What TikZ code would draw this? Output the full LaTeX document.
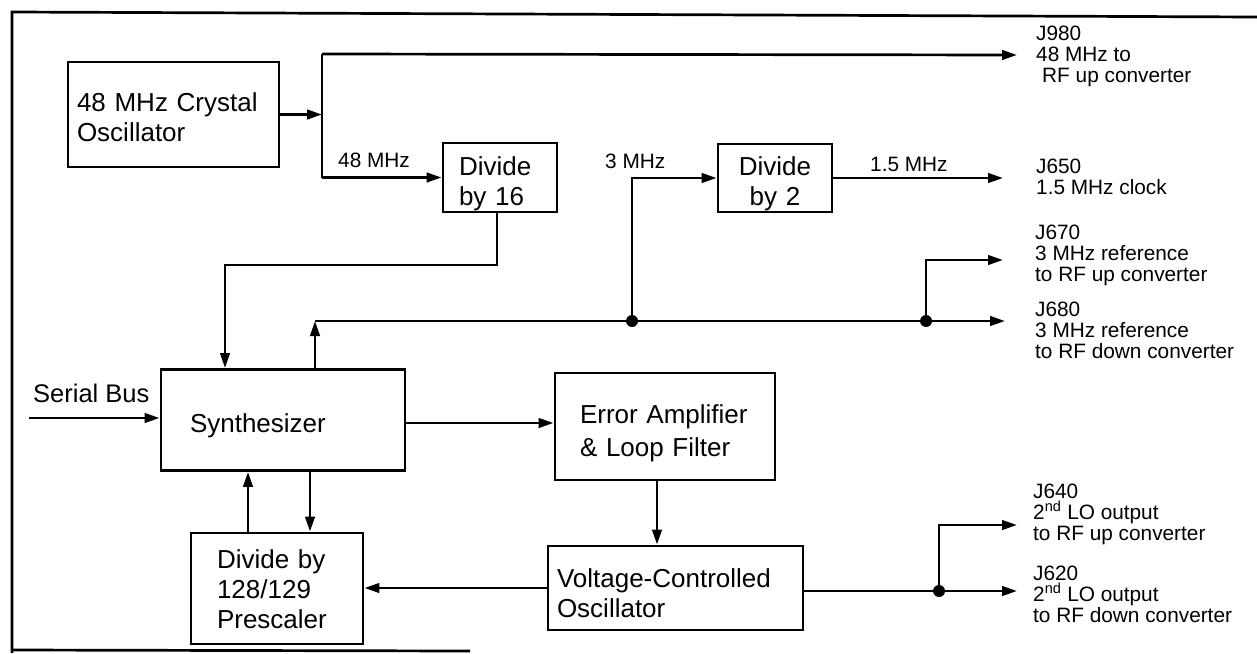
\documentclass[tikz,border=0pt]{standalone}
\usepackage{fontspec}
\setmainfont{Liberation Sans}
\usetikzlibrary{arrows.meta}
\newcommand{\firstline}[1]{\rule{0pt}{#1pt}}
\begin{document}
\begin{tikzpicture}[x=1pt,y=-1pt,
  box/.style={draw, line width=2.9pt, inner ysep=0pt, align=left, font=\fontsize{26}{30}\selectfont},
  wire/.style={line width=2.7pt},
  arr/.style={line width=2.7pt, -{Triangle[length=15pt,width=9.5pt]}},
  lbl/.style={font=\fontsize{20.8}{21}\selectfont, inner sep=0pt, align=left},
  biglbl/.style={font=\fontsize{25.5}{30}\selectfont, inner sep=0pt},
  dot/.style={circle, fill, inner sep=0pt, minimum size=12pt},
  frame/.style={line width=2.7pt}]
\useasboundingbox (0,0) rectangle (1257,653);
% frame
\draw[frame] (1257,17) -- (12,12) -- (12,653);
\draw[frame] (12,650) -- (470,651);

% boxes
\node[box, minimum width=211pt, minimum height=105pt, text width=193pt, inner xsep=9pt] (xtal) at (173.5,114.5) {\firstline{25}48 MHz Crystal\\Oscillator};
\node[box, minimum width=114pt, minimum height=69pt, text width=82pt, inner xsep=16pt] (div16) at (500,177.5) {\firstline{31}Divide\\by 16};
\node[box, minimum width=114pt, minimum height=68pt, text width=94pt, inner xsep=10pt, align=center] (div2) at (775,178) {\firstline{31}Divide\\by 2};
\node[box, minimum width=244pt, minimum height=101pt, text width=186pt, inner xsep=29pt] (synth) at (283,420) {\firstline{31}Synthesizer};
\node[box, minimum width=220pt, minimum height=107pt, text width=170pt, inner xsep=25pt, font=\fontsize{26}{33}\selectfont] (err) at (665,426.5) {\firstline{33}Error Amplifier\\\& Loop Filter};
\node[box, minimum width=255pt, minimum height=84pt, text width=237pt, inner xsep=9pt] (vco) at (675.5,588) {\firstline{29}Voltage-Controlled\\Oscillator};
\node[box, minimum width=172pt, minimum height=111pt, text width=120pt, inner xsep=26pt] (pre) at (277,588.5) {\firstline{21}Divide by\\128/129\\Prescaler};

% junction dots
\node[dot] (j1) at (632,321) {};
\node[dot] (j2) at (926,321) {};
\node[dot] (j3) at (939,591) {};

% crystal outputs
\coordinate (t1) at (322,54);
\coordinate (t2) at (322,177.5);
\coordinate (o980) at (1017,55);
\draw[arr] (xtal.east) -- (xtal.east -| t1);
\draw[wire] (t1) -- (t2);
\draw[arr] (t1) -- (o980);
\draw[arr] (t2) -- (div16.west);
\node[lbl, anchor=base west] (l48) at (338,167) {48 MHz};

% divide by 16 to synthesizer
\coordinate (c2) at (225,265);
\draw[arr] ([xshift=-3pt]div16.south) |- (c2) -- (c2 |- synth.north);

% 3 MHz reference bus
\coordinate (c1) at (315,321);
\coordinate (o680) at (1005,321);
\coordinate (o670) at (1003,260);
\coordinate (o650) at (1003,178);
\draw[arr] (c1 |- synth.north) -- (c1);
\draw[wire] (c1) -- (j1.center) -- (j2.center);
\draw[arr] (j2.center) -- (o680);
\draw[arr] (j2.center) |- (o670);
\draw[arr] (j1.center) |- (div2.west);
\draw[arr] (div2.east) -- (o650);
\node[lbl, anchor=base west] (l3) at (605,168) {3 MHz};
\node[lbl, anchor=base west] (l15) at (870,171) {1.5 MHz};

% serial bus
\coordinate (sb) at (29,418);
\draw[arr] (sb) -- (sb -| synth.west);
\node[biglbl, anchor=base west] (sbl) at (33,402) {Serial Bus};

% synthesizer loop
\coordinate (ey) at (0,423);
\draw[arr] (synth.east |- ey) -- (err.west |- ey);
\coordinate (ev) at (657,0);
\draw[arr] (ev |- err.south) -- (ev |- vco.north);
\draw[arr] (vco.west) -- (vco.west -| pre.east);
\coordinate (ps) at (248,0);
\draw[arr] (ps |- pre.north) -- (ps |- synth.south);
\coordinate (sp) at (310,0);
\draw[arr] (sp |- synth.south) -- (sp |- pre.north);

% VCO outputs
\coordinate (vy) at (0,591);
\coordinate (o620) at (1017,591);
\coordinate (o640) at (1017,525);
\draw[wire] (vco.east |- vy) -- (j3.center);
\draw[arr] (j3.center) -- (o620);
\draw[arr] (j3.center) |- (o640);

% right-hand labels (anchored at the baseline of their last line)
\node[lbl, anchor=base west] (n980) at (1036,82) {J980\\48 MHz to\\\hspace*{6pt}RF up converter};
\node[lbl, anchor=base west] (n650) at (1036,194) {J650\\1.5 MHz clock};
\node[lbl, anchor=base west] (n670) at (1035,281) {J670\\3 MHz reference\\to RF up converter};
\node[lbl, anchor=base west] (n680) at (1035,358) {J680\\3 MHz reference\\to RF down converter};
\node[lbl, anchor=base west] (n640) at (1033,540) {J640\\2\textsuperscript{nd} LO output\\to RF up converter};
\node[lbl, anchor=base west] (n620) at (1033,622) {J620\\2\textsuperscript{nd} LO output\\to RF down converter};
\end{tikzpicture}
\end{document}
